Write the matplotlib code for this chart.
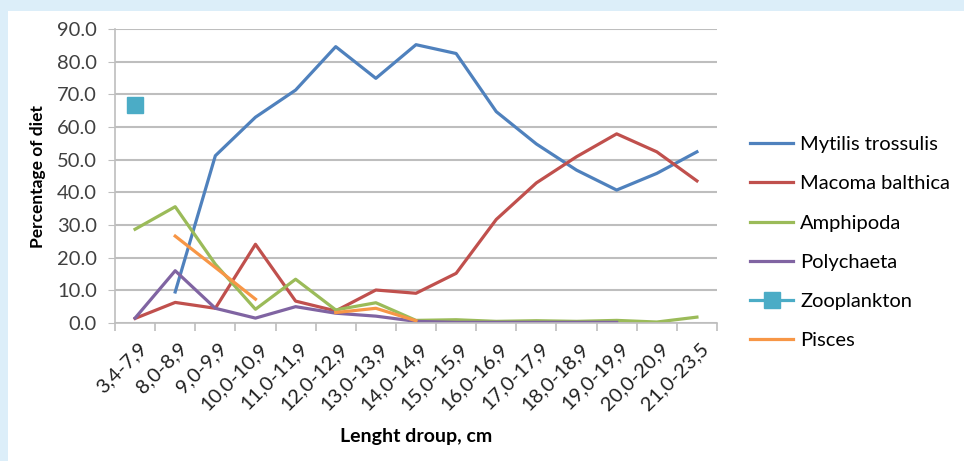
import numpy as np
import matplotlib.pyplot as plt
from matplotlib.patches import Rectangle
from matplotlib.transforms import ScaledTranslation

plt.rcParams['font.family'] = ['Lato', 'DejaVu Sans']

groups = ['3,4-7,9', '8,0-8,9', '9,0-9,9', '10,0-10,9', '11,0-11,9', '12,0-12,9',
          '13,0-13,9', '14,0-14,9', '15,0-15,9', '16,0-16,9', '17,0-17,9',
          '18,0-18,9', '19,0-19,9', '20,0-20,9', '21,0-23,5']
nan = np.nan
mytilus = [nan, 9.5, 51.2, 63.0, 71.3, 84.6, 74.9, 85.2, 82.5, 64.7, 54.8, 46.8, 40.7, 45.8, 52.4]
macoma = [1.4, 6.3, 4.5, 24.1, 6.7, 3.7, 10.1, 9.1, 15.2, 31.7, 42.9, 50.9, 57.9, 52.4, 43.5]
amphipoda = [28.7, 35.6, 18.0, 4.2, 13.4, 4.0, 6.2, 0.8, 1.0, 0.5, 0.7, 0.5, 0.8, 0.3, 1.8]
polychaeta = [1.5, 16.0, 4.5, 1.5, 5.0, 3.0, 2.1, 0.5, 0.2, 0.2, 0.2, 0.2, 0.2, nan, nan]
zooplankton = [66.7] + [nan] * 14
pisces = [nan, 26.6, 17.0, 7.3, nan, 3.2, 4.5, 0.7] + [nan] * 7

fig = plt.figure(figsize=(9.64, 4.61), dpi=100)
fig.patch.set_facecolor('#dcEEF9')
fig.patches.append(Rectangle((8 / 964, 0), 1, (461 - 11) / 461, transform=fig.transFigure,
                             facecolor='white', edgecolor='none', zorder=-5))

ax = fig.add_axes([115 / 964, 138 / 461, 602 / 964, 294 / 461])
ax.set_facecolor('none')
x = np.arange(len(groups))
lw = 2.3
ax.plot(x, mytilus, color='#4F81BD', lw=lw, label='Mytilis trossulis')
ax.plot(x, macoma, color='#C0504D', lw=lw, label='Macoma balthica')
ax.plot(x, amphipoda, color='#9BBB59', lw=lw, label='Amphipoda')
ax.plot(x, polychaeta, color='#8064A2', lw=lw, label='Polychaeta')
ax.plot(x, zooplankton, color='#4BACC6', lw=lw, marker='s', ms=11, label='Zooplankton')
ax.plot(x, pisces, color='#F79646', lw=lw, label='Pisces')

ax.set_xlim(-0.5, len(groups) - 0.5)
ax.set_ylim(0, 90)
ax.set_yticks(np.arange(0, 91, 10))
ax.set_yticklabels([f'{v:.1f}' for v in np.arange(0, 91, 10)])
ax.yaxis.grid(True, color='#BEBEBE', lw=1.5)
ax.set_axisbelow(True)
ax.tick_params(axis='y', length=5, color='#BEBEBE', labelsize=14.5, labelcolor='#404040', pad=8)

ax.set_xticks(x)
ax.set_xticklabels(groups, rotation=45, ha='right', rotation_mode='anchor')
ax.set_xticks(np.arange(-0.5, len(groups)), minor=True)
ax.tick_params(axis='x', which='major', length=0, labelsize=14.5, labelcolor='#202020', pad=12)
ax.tick_params(axis='x', which='minor', length=6, color='#BEBEBE', width=1.2)
shift = ScaledTranslation(3 / 100, 0, fig.dpi_scale_trans)
for lab in ax.get_xticklabels():
    lab.set_transform(lab.get_transform() + shift)

for s in ['top', 'right']:
    ax.spines[s].set_visible(False)
for s in ['left', 'bottom']:
    ax.spines[s].set_color('#BEBEBE')
    ax.spines[s].set_linewidth(1.2)

ax.set_ylabel('Percentage of diet', fontsize=12.5, fontweight='bold', labelpad=8)
ax.set_xlabel('Lenght droup, cm', fontsize=14, fontweight='bold', labelpad=11)

ax.legend(loc='upper left', bbox_to_anchor=(750 / 964, (461 - 136) / 461),
          bbox_transform=fig.transFigure, frameon=False, fontsize=14.5,
          borderpad=0, borderaxespad=0, handlelength=2.15, handletextpad=0.35,
          labelspacing=1.1, numpoints=1)

fig.savefig('out.png', dpi=100)
